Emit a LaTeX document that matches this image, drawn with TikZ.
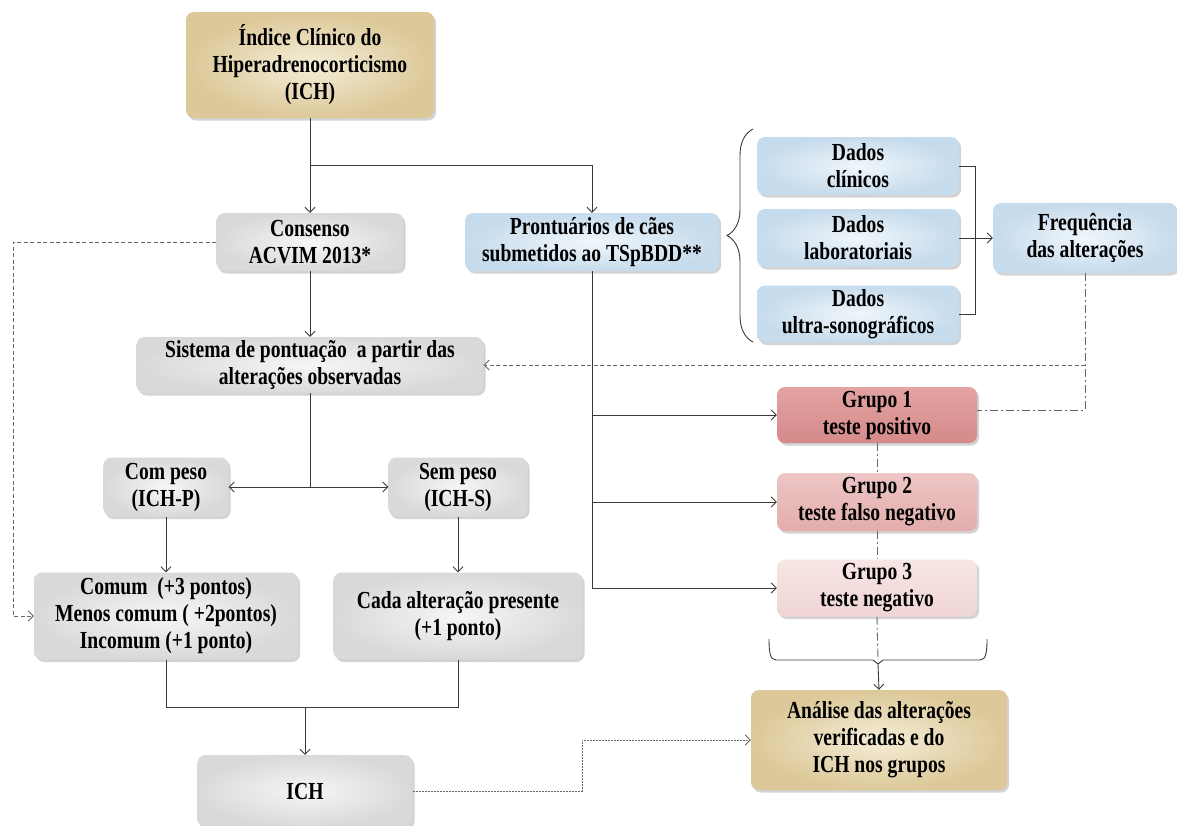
\documentclass[tikz,border=0pt]{standalone}
\usepackage{fontspec}
\setmainfont[FakeStretch=0.8]{Liberation Serif}
\usetikzlibrary{arrows.meta,shadows,decorations.pathreplacing}

\definecolor{linec}{HTML}{3A3A3A}
\definecolor{dashc}{HTML}{666666}
\definecolor{taninner}{HTML}{F4EDD8}
\definecolor{tanouter}{HTML}{DCC898}
\definecolor{grayinner}{HTML}{F6F6F6}
\definecolor{grayouter}{HTML}{D9D9D9}
\definecolor{blueinner}{HTML}{F0F6FB}
\definecolor{blueouter}{HTML}{C6DBEC}
\definecolor{gonetop}{HTML}{E2A3A2}
\definecolor{gonebot}{HTML}{D48A89}
\definecolor{gtwotop}{HTML}{EDC6C5}
\definecolor{gtwobot}{HTML}{E2ADAC}
\definecolor{gthreetop}{HTML}{F7E6E5}
\definecolor{gthreebot}{HTML}{EFD5D4}

\begin{document}
\begin{tikzpicture}[x=1pt,y=-1pt,
  box/.style={rounded corners=8pt, align=center, inner sep=0pt,
    font=\fontsize{24.5}{27}\selectfont\bfseries,
    drop shadow={opacity=0.35, shadow xshift=2pt, shadow yshift=-2.5pt}},
  tanbox/.style={box, inner color=taninner, outer color=tanouter},
  graybox/.style={box, inner color=grayinner, outer color=grayouter},
  bluebox/.style={box, inner color=blueinner, outer color=blueouter},
  gone/.style={box, top color=gonetop, bottom color=gonebot},
  gtwo/.style={box, top color=gtwotop, bottom color=gtwobot},
  gthree/.style={box, top color=gthreetop, bottom color=gthreebot},
  conn/.style={draw=linec, line width=0.9pt},
  arr/.style={conn, -{Straight Barb[length=5pt,width=10pt]}},
  dashline/.style={draw=dashc, line width=0.9pt, dash pattern=on 4pt off 2.5pt},
  dasharr/.style={dashline, -{Straight Barb[length=5pt,width=10pt]}},
  fineline/.style={draw=dashc, line width=0.9pt, dash pattern=on 2pt off 1pt},
  finearr/.style={fineline, -{Straight Barb[length=5pt,width=10pt]}},
  dotdash/.style={draw=dashc, line width=0.9pt, dash pattern=on 8pt off 3pt on 2pt off 3pt},
]
\useasboundingbox (0,0) rectangle (1177,825);

% boxes
\node[tanbox, minimum width=248pt, minimum height=106pt] (ichtop) at (310,65)
  {Índice Clínico do\\Hiperadrenocorticismo\\(ICH)};
\node[graybox, minimum width=187pt, minimum height=58pt] (consenso) at (310,242)
  {Consenso\\ACVIM 2013*};
\node[bluebox, minimum width=254pt, minimum height=58pt] (pront) at (592,242)
  {Prontuários de cães\\submetidos ao TSpBDD**};
\node[bluebox, minimum width=202pt, minimum height=58pt] (clin) at (858,166)
  {Dados\\clínicos};
\node[bluebox, minimum width=202pt, minimum height=58pt] (lab) at (858,238)
  {Dados\\laboratoriais};
\node[bluebox, minimum width=202pt, minimum height=57pt] (ultra) at (858,314)
  {Dados\\ultra-sonográficos};
\node[bluebox, minimum width=184pt, minimum height=70pt] (freq) at (1085,238)
  {Frequência\\das alterações};
\node[graybox, minimum width=347pt, minimum height=56pt] (sistema) at (310,365)
  {Sistema de pontuação~ a partir das\\alterações observadas};
\node[graybox, minimum width=125pt, minimum height=59pt] (compeso) at (166,487)
  {Com peso\\(ICH-P)};
\node[graybox, minimum width=139pt, minimum height=59pt] (sempeso) at (458,487)
  {Sem peso\\(ICH-S)};
\node[graybox, minimum width=264pt, minimum height=87pt] (comum) at (166,616)
  {Comum~ (+3 pontos)\\Menos comum ( +2pontos)\\Incomum (+1 ponto)};
\node[graybox, minimum width=249pt, minimum height=87pt] (cada) at (458,616)
  {Cada alteração presente\\(+1 ponto)};
\node[graybox, minimum width=215pt, minimum height=72pt] (ichbot) at (305,791)
  {ICH};
\node[gone, minimum width=200pt, minimum height=56pt] (g1) at (877,415)
  {Grupo 1\\teste positivo};
\node[gtwo, minimum width=200pt, minimum height=58pt] (g2) at (877,502)
  {Grupo 2\\teste falso negativo};
\node[gthree, minimum width=200pt, minimum height=57pt] (g3) at (877,588)
  {Grupo 3\\teste negativo};
\node[tanbox, minimum width=256pt, minimum height=100pt] (analise) at (879,740)
  {Análise das alterações\\verificadas e do\\ICH nos grupos};

% junction points
\coordinate (split) at (310,165);
\coordinate (leftrail) at (13,0);
\coordinate (datarail) at (975,0);
\coordinate (scoresplit) at (310,487);
\coordinate (join) at (305,707);
\coordinate (steprail) at (582,0);
\coordinate (bracetip) at (878,664);

% top split
\draw[conn] (ichtop.south) -- (split);
\draw[arr] (split) -- (consenso.north);
\draw[arr] (split) -| (pront.north);

% left dashed return
\draw[dasharr] (consenso.west) -| (leftrail |- comum.west) -- (comum.west);

% records to groups
\draw[arr] (pront.south) |- (g1.west);
\draw[arr] (pront.south) |- (g2.west);
\draw[arr] (pront.south) |- (g3.west);

% records brace and data
\draw[conn, decorate, decoration={brace, amplitude=26pt}] (753,342) -- (753,129);
\draw[conn] (clin.east) -| (datarail |- ultra.east) -- (ultra.east);
\draw[arr] (lab.east) -- (freq.west);

% frequency feedback
\draw[dotdash] (freq.south) |- ([yshift=5pt]g1.east);
\draw[dasharr] (freq.south |- sistema.east) -- (sistema.east);

% scoring tree
\draw[arr] (consenso.south) -- (sistema.north);
\draw[conn] (sistema.south) -- (scoresplit);
\draw[arr] (scoresplit) -- (compeso.east);
\draw[arr] (scoresplit) -- (sempeso.west);
\draw[arr] (compeso.south) -- (comum.north);
\draw[arr] (sempeso.south) -- (cada.north);
\draw[conn] (comum.south) |- (join) -| (cada.south);
\draw[arr] (join) -- (ichbot.north);

% groups chain and collecting bracket
\draw[dotdash] (g1.south) -- (g2.north);
\draw[dotdash] (g2.south) -- (g3.north);
\draw[dotdash] (g3.south) -- (878,660);
\draw[conn, line join=round] (769,639) .. controls (769,652) and (770,660) .. (776,660)
  -- (873,660) -- (bracetip) -- (883,660) -- (980,660)
  .. controls (986,660) and (987,652) .. (987,639);
\draw[arr] (bracetip) -- (analise.north);

% index to analysis
\draw[finearr] (ichbot.east) -| (steprail |- analise.west) -- (analise.west);
\end{tikzpicture}
\end{document}
